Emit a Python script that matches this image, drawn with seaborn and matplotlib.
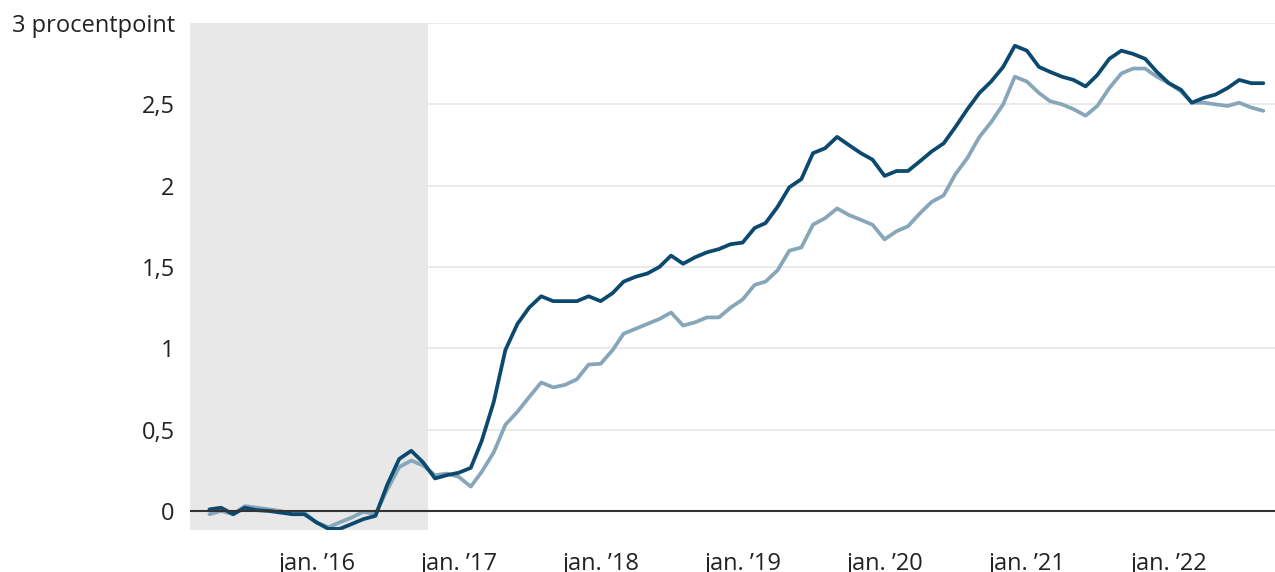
import pandas as pd
import numpy as np
import matplotlib
matplotlib.use("Agg")
import matplotlib.pyplot as plt
import matplotlib.dates as mdates
import seaborn as sns

# monthly values, April 2015 - September 2022 (procentpoint)
months = pd.date_range("2015-04-01", periods=90, freq="MS")

dark_values = [
    0.01, 0.02, -0.02, 0.02, 0.005, 0.0, -0.01, -0.02, -0.02, -0.07,
    -0.11, -0.11, -0.08, -0.05, -0.03, 0.16, 0.32, 0.37, 0.30, 0.20,
    0.22, 0.235, 0.265, 0.43, 0.67, 0.99, 1.15, 1.25, 1.32, 1.29,
    1.29, 1.29, 1.32, 1.29, 1.34, 1.41, 1.44, 1.46, 1.50, 1.57,
    1.52, 1.56, 1.59, 1.61, 1.64, 1.65, 1.74, 1.77, 1.87, 1.99,
    2.04, 2.20, 2.23, 2.30, 2.25, 2.20, 2.16, 2.06, 2.09, 2.09,
    2.15, 2.21, 2.26, 2.36, 2.47, 2.57, 2.64, 2.73, 2.86, 2.83,
    2.73, 2.70, 2.67, 2.65, 2.61, 2.68, 2.78, 2.83, 2.81, 2.78,
    2.70, 2.63, 2.59, 2.51, 2.54, 2.56, 2.60, 2.65, 2.63, 2.63,
]

light_values = [
    -0.02, 0.0, -0.02, 0.03, 0.02, 0.01, 0.0, -0.02, -0.01, -0.07,
    -0.10, -0.07, -0.04, -0.005, -0.02, 0.13, 0.27, 0.31, 0.28, 0.22,
    0.23, 0.21, 0.15, 0.24, 0.36, 0.53, 0.61, 0.70, 0.79, 0.76,
    0.775, 0.81, 0.90, 0.905, 0.99, 1.09, 1.12, 1.15, 1.18, 1.22,
    1.14, 1.16, 1.19, 1.19, 1.25, 1.30, 1.39, 1.41, 1.48, 1.60,
    1.62, 1.76, 1.80, 1.86, 1.82, 1.79, 1.76, 1.67, 1.72, 1.75,
    1.83, 1.90, 1.94, 2.07, 2.17, 2.30, 2.39, 2.50, 2.67, 2.64,
    2.57, 2.52, 2.50, 2.47, 2.43, 2.49, 2.60, 2.69, 2.72, 2.72,
    2.67, 2.63, 2.58, 2.51, 2.51, 2.50, 2.49, 2.51, 2.48, 2.46,
]

y_ticks = [0, 0.5, 1, 1.5, 2, 2.5, 3]
y_labels = ["0", "0,5", "1", "1,5", "2", "2,5", "3 procentpoint"]
x_years = [2016, 2017, 2018, 2019, 2020, 2021, 2022]
x_labels = ["jan. \u2019" + str(y)[2:] for y in x_years]

df = pd.DataFrame({
    "maaned": list(months) * 2,
    "vaerdi": light_values + dark_values,
    "serie": ["lys"] * len(months) + ["moerk"] * len(months),
})

sns.set_style("white")
plt.rcParams["font.family"] = ["Open Sans", "DejaVu Sans"]

fig = plt.figure(figsize=(12.75, 5.72), dpi=100)
ax = fig.add_axes([190 / 1275, 1 - 530 / 572, 1 - 190 / 1275, (530 - 23) / 572])

# shaded period
ax.axvspan(pd.Timestamp("2015-01-01"), pd.Timestamp("2016-10-13"),
           color="#e8e8e8", zorder=1, lw=0)

for t in y_ticks[1:]:
    ax.axhline(t, color="#e6e6e6", lw=1.2, zorder=0)
ax.axhline(0, color="#333333", lw=1.5, zorder=4)

sns.lineplot(data=df, x="maaned", y="vaerdi", hue="serie",
             palette={"lys": "#88a6ba", "moerk": "#0b4a6e"},
             linewidth=2.7, legend=False, ax=ax, zorder=3)

ax.set_xlim(pd.Timestamp("2015-02-10"), pd.Timestamp("2022-10-01"))
ax.set_ylim(-0.117, 3.0)

ax.set_yticks(y_ticks)
ax.set_yticklabels(y_labels)
ax.set_xticks([pd.Timestamp(f"{y}-01-01") for y in x_years])
ax.set_xticklabels(x_labels)

ax.tick_params(axis="both", length=0, labelsize=17, colors="#222222")
ax.tick_params(axis="y", pad=11)
ax.tick_params(axis="x", pad=16)

ax.set_xlabel("")
ax.set_ylabel("")
for s in ax.spines.values():
    s.set_visible(False)

fig.savefig("out.png", dpi=100)
